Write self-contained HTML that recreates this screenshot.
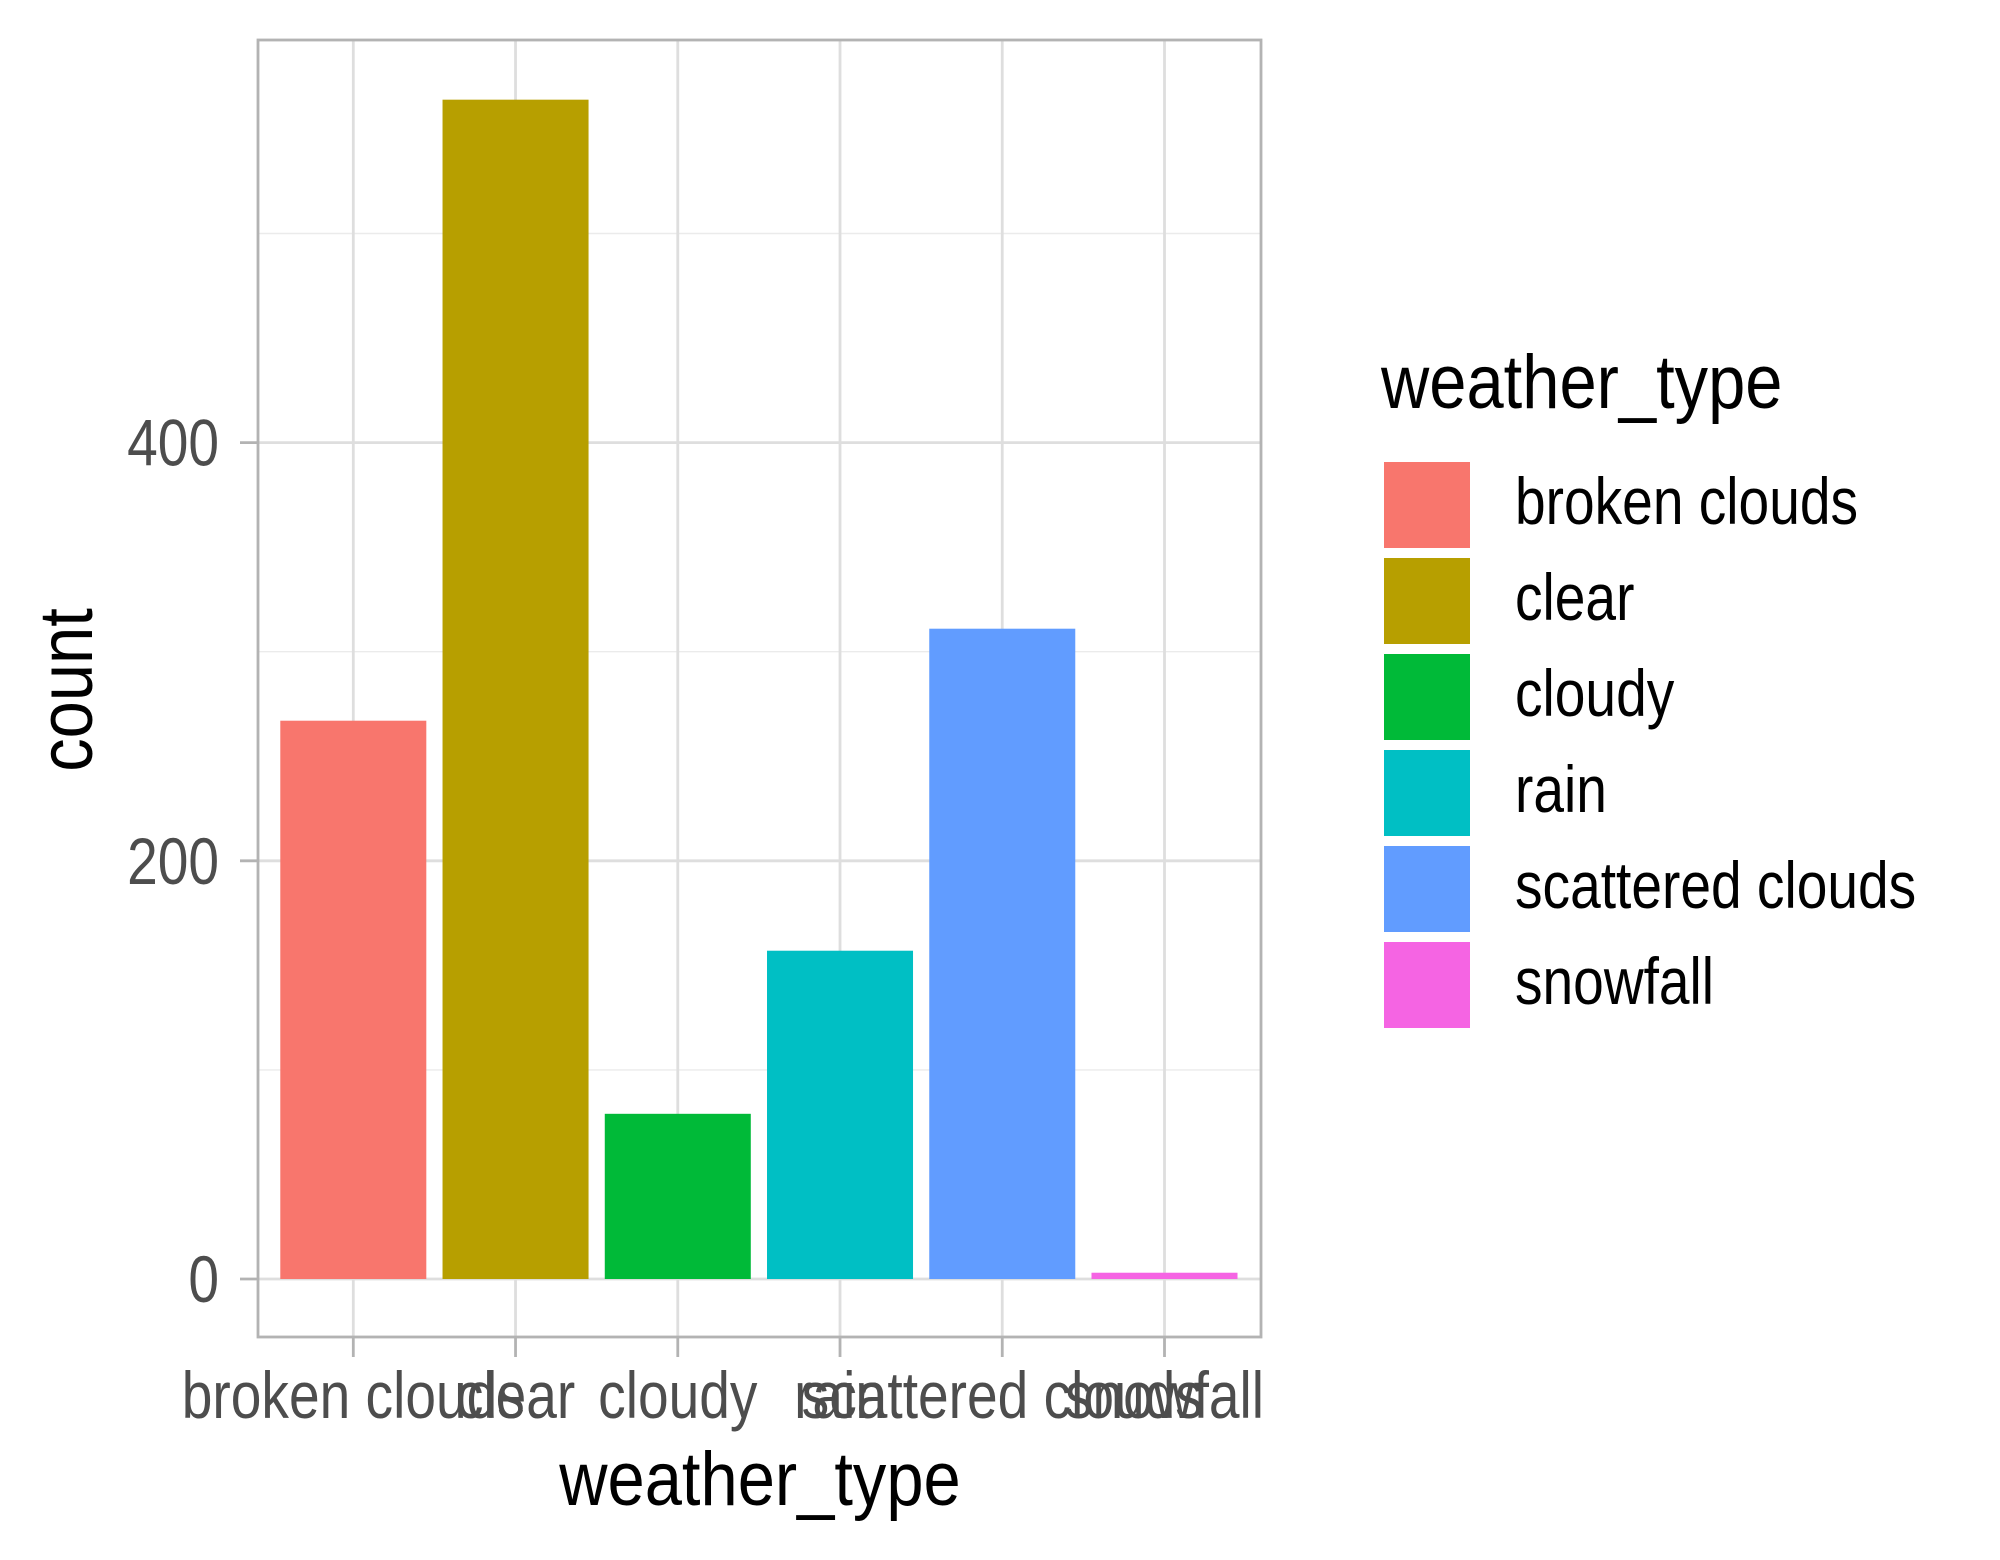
<!DOCTYPE html>
<html><head><meta charset="utf-8"><style>
html,body{margin:0;padding:0;background:#fff;}
svg{display:block;font-family:"Liberation Sans",sans-serif;}
</style></head><body>
<svg id="chart" width="2000" height="1560" viewBox="0 0 2000 1560">
<rect x="0" y="0" width="2000" height="1560" fill="#fff"/>
<g id="grid"></g>
<g id="bars"></g>
<rect x="258" y="40" width="1003" height="1297" fill="none" stroke="#b3b3b3" stroke-width="2.8"/>
<g id="axes"></g>
<text x="0" y="0" transform="translate(92,690) rotate(-90) scale(0.88,1)" text-anchor="middle" font-size="76" fill="#000">count</text>
<text x="0" y="0" transform="translate(760,1505) scale(0.88,1)" text-anchor="middle" font-size="76" fill="#000">weather_type</text>
<g id="legend">
<text x="0" y="0" transform="translate(1381,408) scale(0.88,1)" font-size="76" fill="#000">weather_type</text>
</g>
</svg>
<script>
const categories = ["broken clouds","clear","cloudy","rain","scattered clouds","snowfall"];
const counts = [267, 564, 79, 157, 311, 3];
const colors = ["#F8766D","#B79F00","#00BA38","#00BFC4","#619CFF","#F564E3"];
const yTicks = [0, 200, 400];
const yMinor = [100, 300, 500];

const NS = "http://www.w3.org/2000/svg";
const pL = 258, pR = 1261, pT = 40, pB = 1337;
const y0px = 1279, pxPerUnit = 2.091;
function yScale(v){ return y0px - v * pxPerUnit; }
const step = 162.24;
function xScale(i){ return 353.3 + i * step; }
const barW = step * 0.9;

function mk(tag, attrs, parent){
  const e = document.createElementNS(NS, tag);
  for (const k in attrs) e.setAttribute(k, attrs[k]);
  parent.appendChild(e);
  return e;
}
const grid = document.getElementById("grid");
const bars = document.getElementById("bars");
const axes = document.getElementById("axes");
const legend = document.getElementById("legend");

yMinor.forEach(v => {
  const l = mk("line", {x1:pL, x2:pR, y1:yScale(v), y2:yScale(v), stroke:"#ebebeb", "stroke-width":1.4}, grid);
  
  
});
yTicks.forEach(v => {
  const l = mk("line", {x1:pL, x2:pR, y1:yScale(v), y2:yScale(v), stroke:"#dedede", "stroke-width":2.8}, grid);
  
  
  const t = mk("line", {x1:240, x2:pL, y1:yScale(v), y2:yScale(v), stroke:"#b3b3b3", "stroke-width":2.8}, axes);
  
  
  const tx = mk("text", {transform:"translate(219," + (yScale(v)+23) + ") scale(0.835,1)", "text-anchor":"end", "font-size":66, fill:"#4d4d4d"}, axes);
  tx.textContent = v;
  
  
});
categories.forEach((c, i) => {
  const l = mk("line", {x1:xScale(i), x2:xScale(i), y1:pT, y2:pB, stroke:"#dedede", "stroke-width":2.8}, grid);
  
  
  const r = mk("rect", {x:xScale(i)-barW/2, y:yScale(counts[i]), width:barW, height:yScale(0)-yScale(counts[i]), fill:colors[i]}, bars);
  
  
  const t = mk("line", {x1:xScale(i), x2:xScale(i), y1:pB, y2:pB+20, stroke:"#b3b3b3", "stroke-width":2.8}, axes);
  
  
  const tx = mk("text", {transform:"translate(" + xScale(i) + ",1418) scale(0.835,1)", "text-anchor":"middle", "font-size":66, fill:"#4d4d4d"}, axes);
  tx.textContent = c;
  
  
  const ky = 460 + i * 96;
  const k = mk("rect", {x:1382, y:ky, width:90, height:90, fill:colors[i], stroke:"#fff", "stroke-width":4}, legend);
  
  
  const lt = mk("text", {transform:"translate(1515," + (ky+64) + ") scale(0.835,1)", "font-size":66, fill:"#000"}, legend);
  lt.textContent = c;
  
  
});
</script>
</body></html>
